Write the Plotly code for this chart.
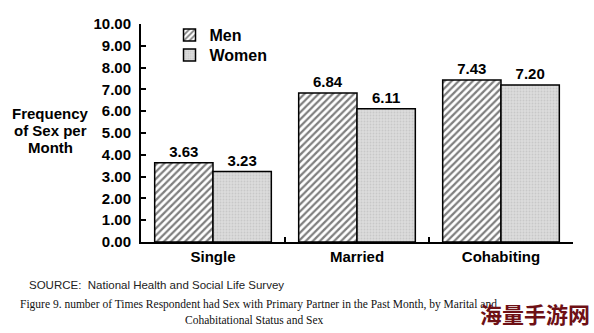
import plotly.graph_objects as go

# Frequency of sex with primary partner, by marital/cohabitational status and sex
categories = ["Single", "Married", "Cohabiting"]
men = [3.63, 6.84, 7.43]
women = [3.23, 6.11, 7.20]
y_ticks = [0, 1, 2, 3, 4, 5, 6, 7, 8, 9, 10]

SANS = "Liberation Sans, Arial, Helvetica, sans-serif"
SERIF = "Liberation Serif, Times New Roman, serif"
LABEL_FONT = dict(family=SANS, size=15, color="black", weight="bold")

fig = go.Figure()
fig.add_trace(go.Bar(
    name="Men", x=categories, y=men, legend="legend",
    marker=dict(color="white", line=dict(color="black", width=1.5),
                pattern=dict(shape="/", fgcolor="black", bgcolor="white",
                             size=5, solidity=0.45)),
    texttemplate="%{y:.2f}", textposition="outside", cliponaxis=False,
    textfont=LABEL_FONT,
))
fig.add_trace(go.Bar(
    name="Women", x=categories, y=women, legend="legend2",
    marker=dict(color="#d6d6d6", line=dict(color="black", width=1.5),
                pattern=dict(shape=".", fgcolor="#b4b4b4", bgcolor="#dcdcdc",
                             size=3, solidity=0.3)),
    texttemplate="%{y:.2f}", textposition="outside", cliponaxis=False,
    textfont=LABEL_FONT,
))

legend_style = dict(xanchor="left", yanchor="middle", bgcolor="rgba(0,0,0,0)",
                    font=dict(family=SANS, size=16, color="black", weight="bold"))

fig.update_layout(
    width=594, height=333,
    margin=dict(l=141, r=21, t=24, b=91),
    paper_bgcolor="white", plot_bgcolor="white",
    barmode="group", bargap=0.19, bargroupgap=0,
    font=dict(family=SANS, color="black"),
    showlegend=True,
    legend=dict(x=0.066, y=(242 - 35) / 218, **legend_style),
    legend2=dict(x=0.066, y=(242 - 55) / 218, **legend_style),
    uniformtext=dict(minsize=15, mode="show"),
)

fig.update_xaxes(
    showline=True, linecolor="black", linewidth=2,
    ticks="inside", tickson="boundaries", ticklen=5, tickwidth=2, tickcolor="black",
    tickfont=LABEL_FONT,
    range=[-0.5, 2.5], showgrid=False, zeroline=False,
)
fig.update_yaxes(
    range=[0, 10], tickvals=y_ticks, tickformat=".2f",
    showline=True, linecolor="black", linewidth=2,
    ticks="inside", ticklen=5, tickwidth=2, tickcolor="black",
    ticklabelstandoff=5,
    tickfont=LABEL_FONT,
    showgrid=False, zeroline=False,
)

annotations = []
# y-axis title, three tightly spaced lines
for line, ypx in zip(["Frequency", "of Sex per", "Month"], [113, 130, 147]):
    annotations.append(dict(
        text=line, x=-0.21, y=(242 - ypx) / 218,
        xref="paper", yref="paper", xanchor="center", yanchor="middle",
        showarrow=False, font=LABEL_FONT))

annotations += [
    dict(text="SOURCE:  National Health and Social Life Survey", x=-0.264, y=-0.197,
         xref="paper", yref="paper", xanchor="left", yanchor="middle",
         showarrow=False, font=dict(family=SANS, size=11.5, color="#222222")),
    dict(text="Figure 9. number of Times Respondent had Sex with Primary Partner in the Past Month, by Marital and",
         x=0.271, y=-0.285, xref="paper", yref="paper", xanchor="center", yanchor="middle",
         showarrow=False, font=dict(family=SERIF, size=11.5, color="#111111")),
    dict(text="Cohabitational Status and Sex",
         x=0.262, y=-0.358, xref="paper", yref="paper", xanchor="center", yanchor="middle",
         showarrow=False, font=dict(family=SERIF, size=11.5, color="#111111")),
    dict(text="海量手游网", x=0.912, y=-0.326, xref="paper", yref="paper",
         xanchor="center", yanchor="middle", showarrow=False,
         font=dict(family="Noto Sans CJK SC", size=22, color="#6e1015", weight="bold")),
]
fig.update_layout(annotations=annotations)

fig.write_html("out.html")
